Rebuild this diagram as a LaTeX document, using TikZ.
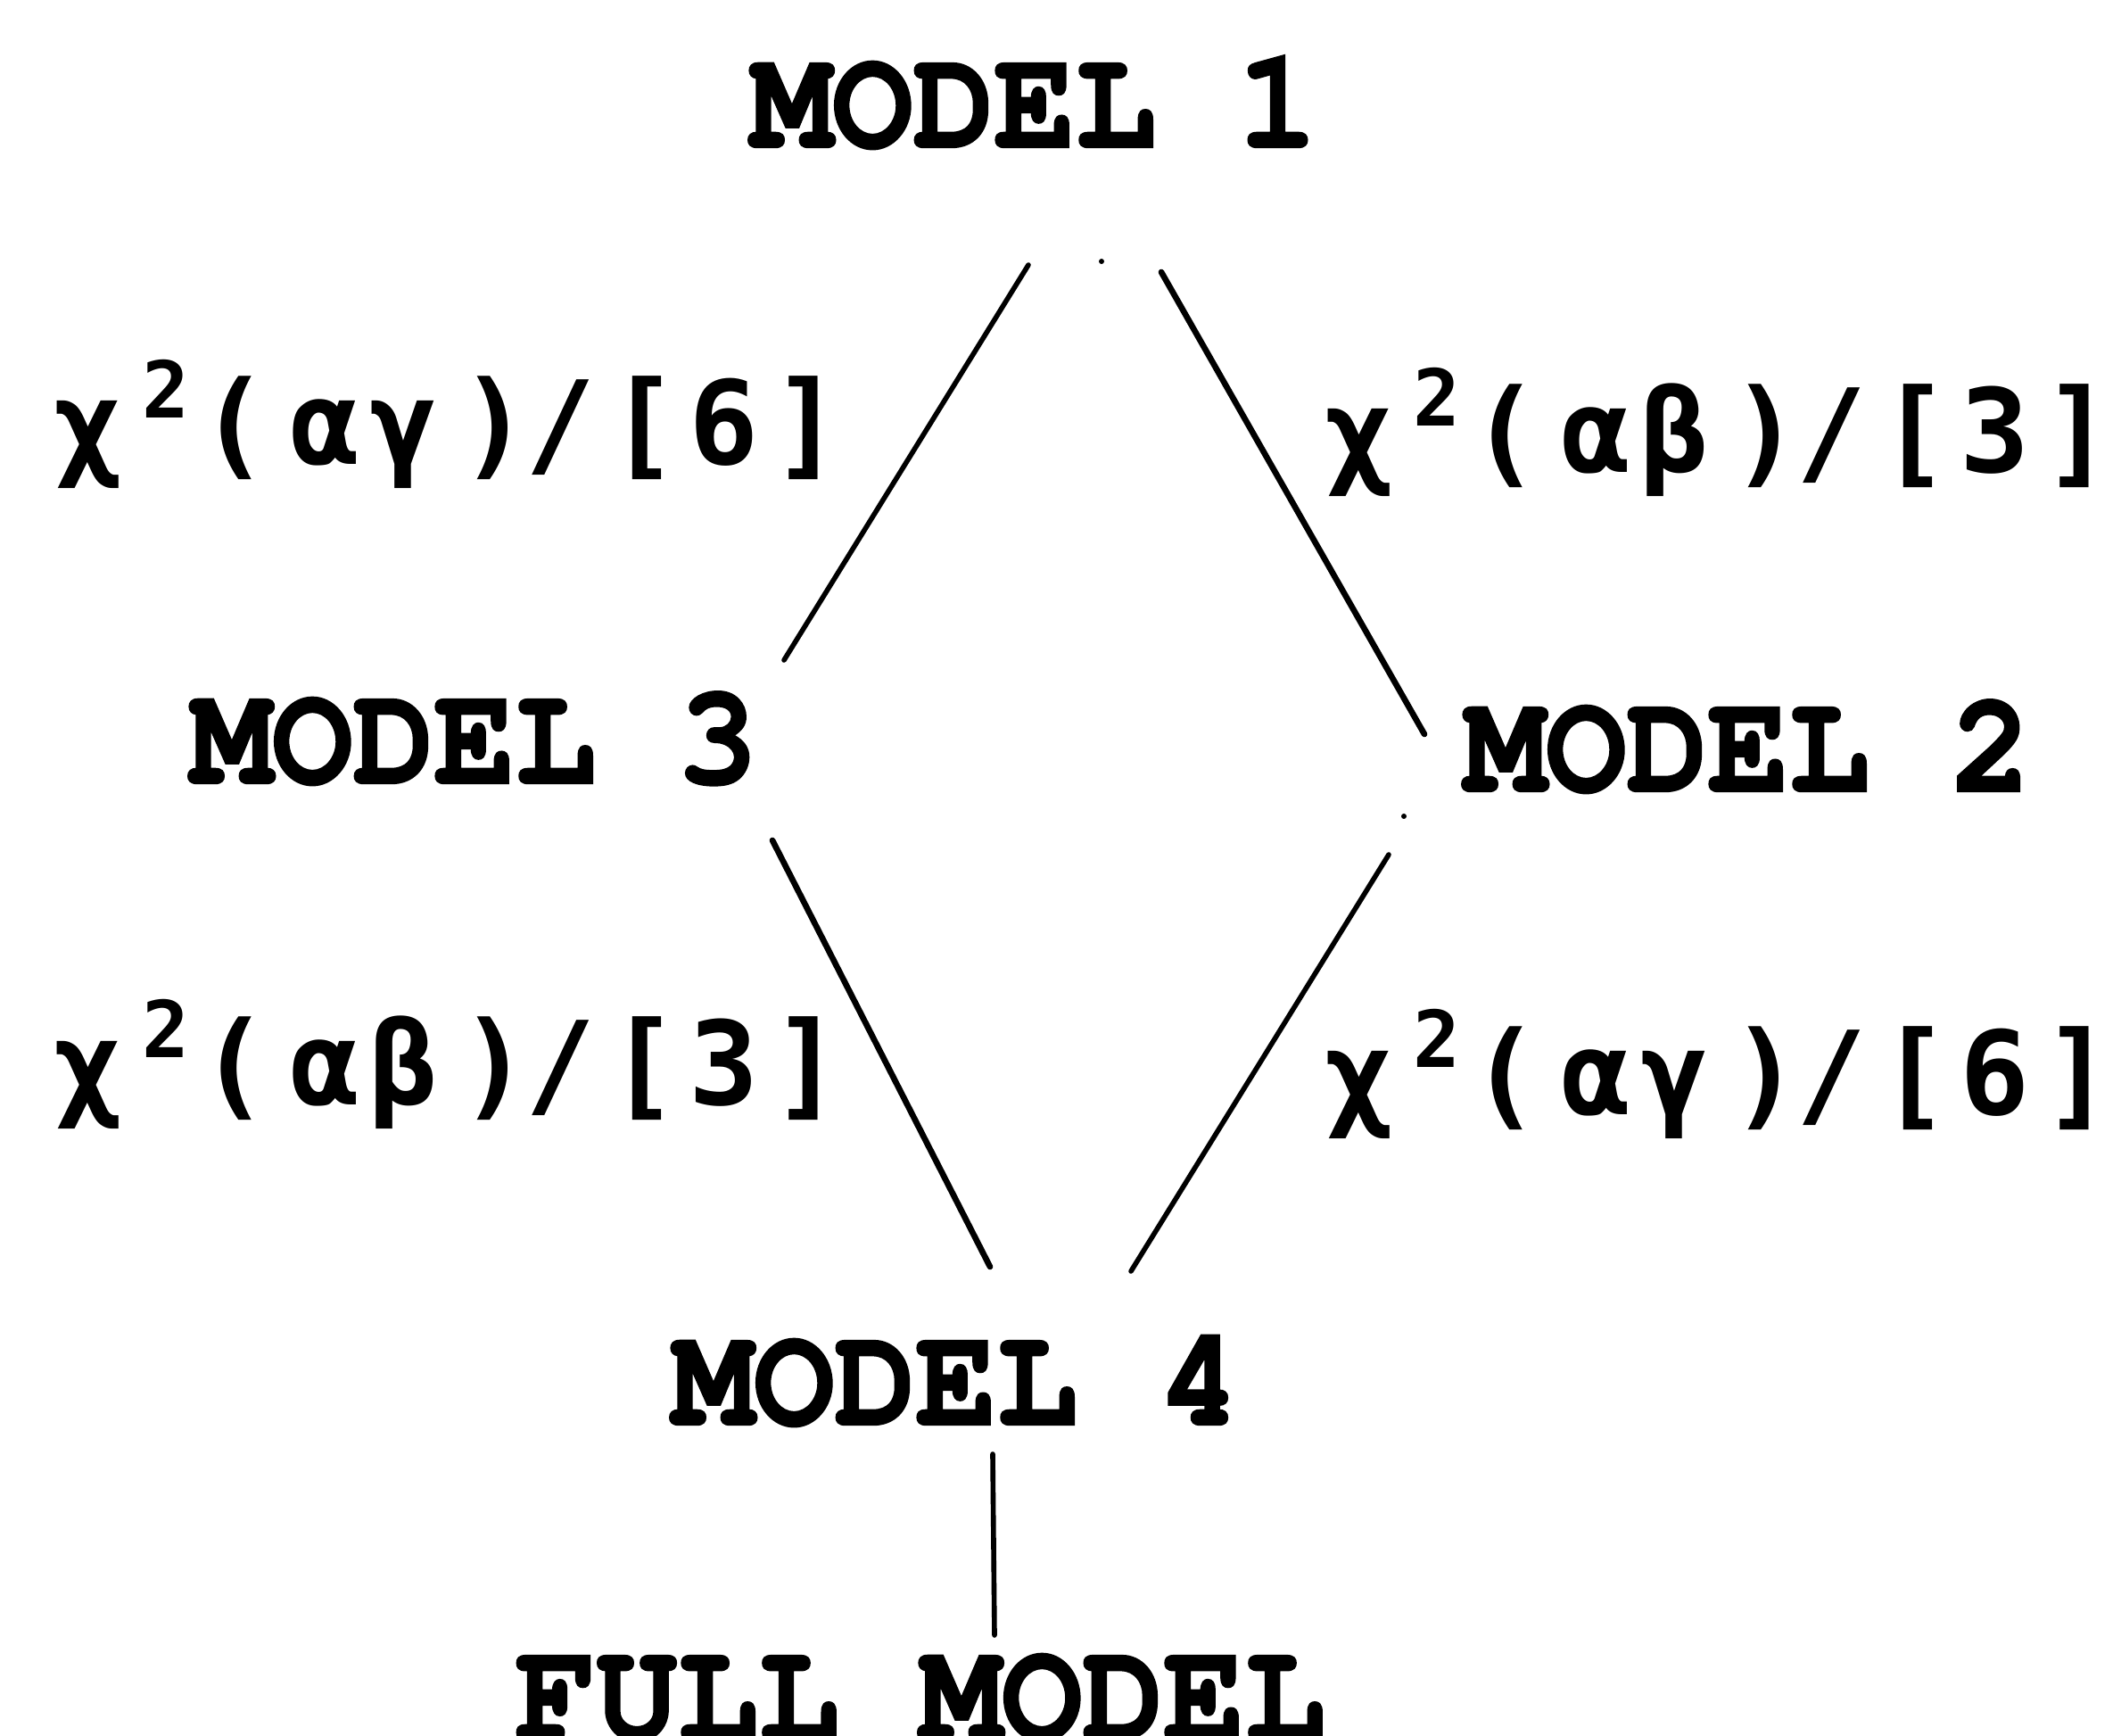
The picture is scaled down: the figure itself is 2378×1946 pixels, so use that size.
\documentclass[tikz,border=0pt]{standalone}
\usepackage{fontspec}
\newfontfamily\lblfont{DejaVu Sans Mono}
\newfontfamily\cursorfont{texgyrecursor-bold.otf}[FakeBold=1.5]
\newcommand{\modelfont}{\fontsize{45.8pt}{52pt}\selectfont\cursorfont}
\newcommand{\mtxt}[1]{\scalebox{0.94}[1]{\modelfont #1}}
\newcommand{\gc}[2]{\makebox[0pt][l]{\hspace*{#1cm}\makebox[0pt][c]{#2}}}
\newcommand{\supii}{\raisebox{0.4em}{\fontsize{25pt}{25pt}\selectfont 2}}
\newcommand{\ltxt}[3]{{\fontsize{37pt}{42pt}\selectfont\lblfont\bfseries
  \gc{0.44}{χ}\gc{1.31}{\supii}\gc{2.08}{(}\gc{3.10}{#1}\gc{3.98}{#2}\gc{5.00}{)}\gc{5.74}{/}\gc{6.67}{[}\gc{7.57}{#3}\gc{8.50}{]}\hspace*{8.72cm}}}
\begin{document}
\begin{tikzpicture}[x=0.01cm,y=-0.01cm,
  modelbox/.style={inner sep=0pt,anchor=base},
  lblbox/.style={inner sep=0pt,anchor=base west},
  edge/.style={line width=1.6pt,line cap=round}]
\useasboundingbox (0,0) rectangle (2378,1946);
\fill[white] (0,0) rectangle (2378,1946);
% nodes
\node[modelbox] (m1) at (1160,165) {\mtxt{MODEL 1}};
\node[modelbox] (m3) at (532,878) {\mtxt{MODEL 3}};
\node[modelbox] (m2) at (1960,887) {\mtxt{MODEL 2}};
\node[modelbox] (m4) at (1072,1597) {\mtxt{MODEL 4}};
\node[modelbox] (full) at (1032,1950) {\mtxt{FULL MODEL}};
% labels
\node[lblbox] (l13) at (54,521) {\ltxt{α}{γ}{6}};
\node[lblbox] (l12) at (1479,530) {\ltxt{α}{β}{3}};
\node[lblbox] (l34) at (54,1238) {\ltxt{α}{β}{3}};
\node[lblbox] (l24) at (1479,1249) {\ltxt{α}{γ}{6}};
% connector end points
\coordinate (m1sw) at (1153,297);
\coordinate (m1se) at (1302,305);
\coordinate (m3ne) at (879,740);
\coordinate (m2nw) at (1597,823);
\coordinate (m3se) at (866,942);
\coordinate (m2sw) at (1557,958);
\coordinate (m4nw) at (1110,1420);
\coordinate (m4ne) at (1268,1425);
\coordinate (m4s) at (1113,1630);
\coordinate (fulln) at (1115,1833);
% connectors
\draw[edge] (m1sw) -- (m3ne);
\draw[edge,line width=1.9pt] (m1se) -- (m2nw);
\draw[edge,line width=1.9pt] (m3se) -- (m4nw);
\draw[edge] (m2sw) -- (m4ne);
\draw[edge] (m4s) -- (fulln);
% specks
\fill (1235,293) circle (3);
\fill (1574,915) circle (3);
\end{tikzpicture}
\end{document}
